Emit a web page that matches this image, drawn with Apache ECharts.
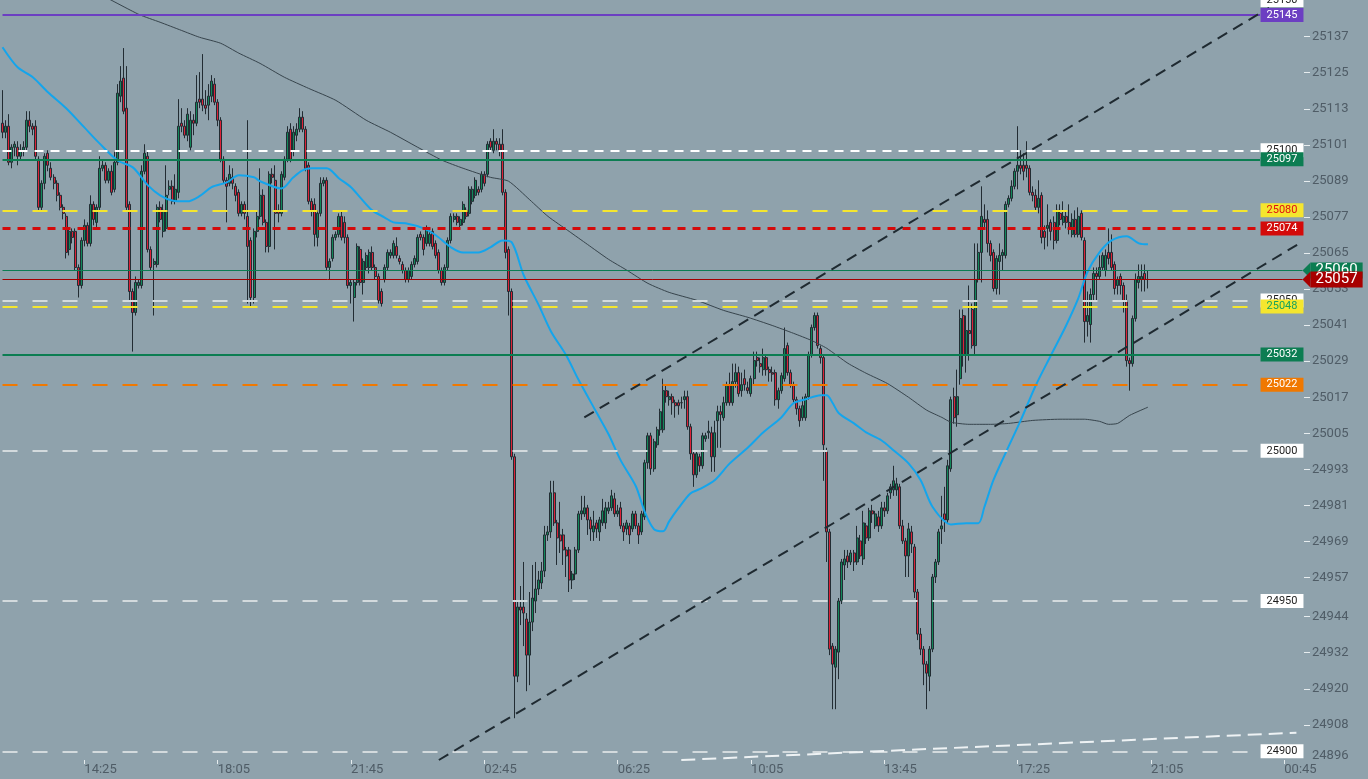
<!DOCTYPE html>
<html>
<head>
<meta charset="utf-8">
<script src="https://cdn.jsdelivr.net/npm/echarts@6/dist/echarts.min.js"></script>
<style>
html, body { margin: 0; padding: 0; background: #8fa2ac; }
#chart { width: 1368px; height: 779px; }
</style>
</head>
<body>
<div id="chart"></div>
<script>
// 5 minute bars, [open, close, low, high]
var barsA = [
    [25109,25106,25104,25120],[25106,25108,25104,25110],[25108,25096,25095,25112],[25096,25101,25094,25102],[25101,25102,25098,25103],
    [25101,25098,25095,25103],[25098,25100,25097,25102],[25100,25101,25098,25103],[25101,25110,25100,25113],[25110,25108,25106,25113],
    [25108,25107,25105,25109],[25108,25098,25097,25110],[25097,25081,25080,25098],[25081,25089,25080,25090],[25089,25098,25087,25099],
    [25099,25095,25093,25100],[25094,25091,25090,25096],[25091,25089,25087,25092],[25089,25085,25083,25090],[25085,25081,25080,25086],
    [25081,25079,25077,25082],[25078,25066,25064,25079],[25067,25073,25065,25074],[25073,25071,25069,25074],[25073,25061,25060,25074],
    [25061,25055,25051,25062],[25055,25070,25054,25071],[25070,25075,25068,25077],[25075,25069,25068,25076],[25069,25082,25068,25085],
    [25082,25077,25075,25083],[25076,25081,25074,25082],[25081,25094,25080,25098],[25094,25095,25093,25097],[25095,25090,25089,25096],
    [25090,25093,25089,25094],[25093,25086,25085,25095],[25087,25096,25086,25100],[25096,25119,25095,25122],[25118,25123,25116,25128],
    [25124,25113,25112,25134],[25114,25081,25080,25128],[25082,25053,25050,25083],[25053,25046,25033,25054],[25046,25056,25045,25058],
    [25055,25056,25054,25057],[25055,25093,25054,25095],[25093,25099,25092,25102],[25098,25067,25066,25100],[25067,25061,25060,25068],
    [25062,25063,25045,25064],[25062,25081,25061,25082],[25081,25077,25076,25083],[25073,25080,25071,25082],[25074,25085,25073,25095],
    [25087,25088,25085,25090],[25088,25083,25082,25090],[25083,25087,25082,25092],[25086,25108,25084,25117],[25109,25108,25106,25114],
    [25108,25105,25104,25110],[25105,25112,25103,25114],[25101,25110,25100,25113],[25110,25109,25105,25112],[25109,25116,25108,25125],
    [25117,25116,25114,25126],[25117,25115,25113,25132],[25115,25114,25112,25120],[25115,25118,25110,25122],[25118,25123,25116,25125],
    [25122,25116,25115,25124],[25116,25110,25108,25117],[25110,25097,25096,25111],[25097,25090,25089,25098],[25090,25088,25076,25091],
    [25089,25092,25088,25095],[25091,25089,25087,25094],[25088,25085,25083,25089],[25086,25079,25078,25087],[25079,25082,25078,25083],
    [25082,25079,25077,25083],[25078,25068,25049,25110]
];
var barsB = [
    [25070,25051,25048,25071],[25051,25073,25049,25074],[25073,25078,25071,25080],[25078,25085,25077,25094],[25085,25076,25075,25087],
    [25076,25068,25066,25077],[25068,25092,25066,25093],[25092,25091,25089,25094],[25090,25079,25067,25095],[25080,25079,25076,25082],
    [25079,25092,25078,25093],[25091,25097,25090,25098],[25097,25106,25096,25108],[25107,25097,25096,25109],[25100,25106,25098,25108],
    [25105,25107,25103,25109],[25107,25111,25106,25114],[25111,25107,25106,25113],[25107,25094,25093,25108],[25095,25083,25082,25096],
    [25083,25080,25078,25084],[25082,25072,25068,25084],[25071,25079,25068,25080],[25079,25089,25078,25091],[25089,25090,25088,25091],
    [25090,25061,25060,25091],[25061,25063,25057,25064],[25064,25071,25063,25072],[25071,25072,25070,25073],[25072,25078,25071,25079],
    [25078,25071,25070,25080],[25076,25071,25069,25078],[25071,25055,25054,25072],[25055,25056,25049,25057],[25051,25056,25043,25057],
    [25056,25068,25055,25069],[25067,25056,25055,25068],[25056,25063,25052,25064],[25061,25065,25060,25066],[25061,25066,25059,25067],
    [25066,25061,25060,25068],[25061,25058,25057,25062],[25058,25050,25049,25059],[25053,25049,25048,25054],[25057,25061,25056,25062],
    [25061,25066,25060,25067],[25065,25066,25064,25067],[25065,25069,25064,25070],[25068,25065,25064,25071],[25064,25063,25062,25065],
    [25062,25060,25059,25063],[25060,25057,25056,25061],[25057,25060,25056,25061],[25058,25062,25057,25063],[25062,25064,25061,25065],
    [25063,25071,25062,25072],[25072,25071,25070,25073],[25071,25067,25065,25072],[25069,25074,25068,25075],[25069,25072,25068,25074],
    [25073,25068,25067,25074],[25069,25065,25064,25070],[25066,25060,25059,25067],[25060,25056,25055,25061],[25056,25061,25055,25062],
    [25061,25070,25060,25071],[25070,25078,25069,25079],[25077,25078,25076,25079],[25078,25076,25075,25079],[25075,25077,25074,25078],
    [25076,25082,25075,25083],[25080,25078,25077,25081],[25079,25087,25078,25088],[25083,25087,25082,25088],[25085,25090,25084,25091],
    [25087,25086,25085,25088],[25087,25092,25086,25093],[25092,25089,25088,25093],[25092,25102,25091,25103],[25103,25101,25100,25104],
    [25100,25103,25099,25107],[25103,25102,25100,25104]
];
var barsC = [
    [25102,25100,25098,25104],[25102,25086,25085,25107],[25086,25066,25064,25087],[25067,25053,25045,25068],[25053,24998,24997,25054],
    [24998,24925,24911,24999],[24925,24948,24923,24950],[24948,24947,24942,24955],[24948,24946,24935,24963],[24944,24932,24920,24946],
    [24932,24943,24922,24953],[24943,24951,24940,24962],[24950,24954,24946,24963],[24954,24957,24952,24960],[24956,24960,24954,24963],
    [24960,24972,24958,24975],[24972,24973,24970,24975],[24973,24986,24971,24990],[24986,24976,24975,24990],[24976,24971,24962,24977],
    [24972,24970,24966,24983],[24972,24967,24962,24974],[24967,24965,24958,24968],[24967,24957,24953,24968],[24957,24959,24954,24960],
    [24959,24967,24957,24968],[24967,24979,24966,24980],[24979,24980,24977,24985],[24979,24981,24978,24985],[24981,24977,24972,24982],
    [24977,24974,24970,24978],[24973,24975,24970,24980],[24976,24974,24971,24977],[24973,24977,24970,24978],[24976,24980,24975,24984],
    [24976,24981,24974,24983],[24980,24981,24979,24983],[24981,24985,24980,24987],[24984,24979,24978,24986],[24979,24980,24978,24982],
    [24981,24975,24974,24983],[24975,24973,24970,24976],[24974,24976,24972,24977],[24975,24972,24969,24976],[24974,24979,24973,24980],
    [24979,24975,24974,24980],[24975,24972,24969,24976],[24973,24979,24972,24980],[24978,24996,24977,24997],[24996,25005,24994,25006],
    [25005,24994,24992,25006],[24994,25003,24993,25004],[25002,25007,25001,25008],[25007,25013,25005,25014],[25007,25020,25006,25024],
    [25020,25018,25016,25022],[25017,25018,25015,25020],[25018,25016,25012,25019],[25016,25015,25011,25017],[25016,25015,25012,25017],
    [25016,25016,25014,25018],[25017,25018,25014,25020]
];
var barsD = [
    [25018,25008,25007,25020],[25008,24999,24997,25009],[24999,24992,24988,25000],[24992,24999,24991,25000],[24998,24995,24993,24999],
    [24995,25005,24994,25006],[25004,25005,25003,25006],[25006,25006.5,25004,25010],[25006,24998,24993,25008],[24998,25006,24993,25010],
    [25010,25013,25001,25015],[25013,25012,25001,25015],[25011,25016,25010,25018],[25016,25022,25015,25023],[25022,25016,25015,25026],
    [25016,25023,25015,25029],[25023,25026,25021,25029],[25026,25019,25018,25028],[25020,25022,25018,25026],[25024,25022,25020,25027],
    [25021,25020,25019,25023],[25019,25024,25018,25025],[25024,25030,25022,25033],[25031,25030,25028,25033],[25029,25028,25026,25031],
    [25027,25031,25025,25034],[25031,25027,25025,25032],[25027,25026,25023,25028],[25026,25025.5,25023,25028],[25026,25017,25015,25027],
    [25017,25020,25014,25021],[25020,25025,25019,25026],[25024,25034,25023,25041],[25035,25026,25025,25036],[25026,25022,25021,25027],
    [25022,25017,25016,25023],[25017,25014,25012,25018],[25014,25010,25008,25015],[25011,25015,25010,25018],[25011,25018,25010,25019],
    [25018,25032,25017,25033],[25032,25041,25031,25042],[25041,25045,25040,25046],[25045,25035,25034,25046],[25034,25031,25029,25035],
    [25031,25002,24990,25032],[25000,24973,24963,25001],[24973,24934,24932,24974],[24935,24929,24914,24936],[24928,24934,24914,24935],
    [24933,24950,24924,24951],[24950,24963,24949,24964],[24962,24964,24957,24967],[24965,24963,24961,24967],[24963,24966,24962,24967],
    [24966,24963,24960,24967],[24963,24971,24962,24975],[24970,24965,24964,24972],[24964,24976,24962,24980],[24975,24971,24969,24976],
    [24971,24980,24970,24981],[24980,24979,24976,24982],[24975,24979,24974,24980],[24978,24975,24973,24980],[24975,24981,24974,24983],
    [24981,24980,24978,24983],[24980,24985,24979,24986],[24986,24988,24984,24989],[24987,24990,24985,24995],[24987,24989,24985,24991]
];
var barsE = [
    [24988,24975,24974,24989],[24975,24970,24969,24977],[24970,24965,24958,24971],[24965,24974,24958,24976],[24973,24969,24966,24975],
    [24968,24953,24951,24969],[24953,24939,24937,24954],[24939,24934,24932,24941],[24934,24929,24922,24935],[24929,24926,24914,24930],
    [24925,24934,24920,24935],[24934,24958,24933,24959],[24958,24963,24956,24964],[24963,24973,24962,24974],[24974,24975,24969,24985],
    [24979,24977,24973,24988],[24977,24995,24976,24997],[24994,25017,24993,25018],
    [25018,25011,25009,25021],[25012,25018,25008,25027],[25024,25044,25022,25047],[25045,25032,25028,25047],[25032,25040,25026,25045],
    [25040,25039,25030,25055],[25047,25035,25034,25049],[25035,25057,25032,25069],[25057,25066,25056,25069],[25066,25078,25056,25088],
    [25077,25076,25074,25082],[25077,25069,25066,25080],[25069,25065,25063,25070],[25066,25054,25053,25067],[25054,25064,25052,25065],
    [25063,25065,25052,25069],[25065,25066,25060,25067],[25065,25082,25064,25083],[25082,25084,25081,25085],[25084,25088,25083,25090],
    [25088,25093,25087,25094],[25093,25095,25087,25108],[25095,25094,25092,25100],[25095,25093,25090,25099],[25095,25094,25091,25103],
    [25094,25086,25085,25095],[25086,25085,25083,25088],[25085,25081,25080,25087],[25081,25084,25079,25090],[25085,25071,25069,25086],
    [25073,25071,25067,25075],[25074,25075,25068,25082],[25076,25073,25070,25077],[25076,25070,25067,25078],[25070,25080,25069,25082],
    [25079,25077,25075,25082],[25076,25078,25075,25083],[25078,25076,25074,25080],[25076,25074,25072,25082],[25072,25077,25071,25079],
    [25077,25072,25071,25080],[25072,25078,25071,25081],[25079,25071,25070,25080],[25070,25043,25036,25071],[25043,25045,25038,25053],
    [25042,25052,25036,25054],[25052,25059,25050,25061],[25059,25058,25050,25061],[25058,25061,25057,25065],[25061,25065,25060,25066],
    [25060,25065,25058,25067],[25066,25064,25062,25074],[25066,25061,25060,25072],[25062,25054,25052,25063],[25055,25057,25052,25058],
    [25058,25055,25052,25059],[25055,25050,25046,25056],[25050,25030,25028,25052],[25030,25029,25020,25031],[25029,25044,25028,25045],
    [25044,25057,25043,25059],[25056,25058,25054,25062],[25057,25058,25053,25062],[25059,25057,25053,25062],[25057,25057,25054,25060]
];
var bars = barsA.concat(barsB, barsC, barsD, barsE);

// moving averages, [bar index, price]
var blueAvg = [[0,25134.3],[5,25127.6],[10,25124.3],[15,25119.3],[21,25114.0],[27,25107.6],[32,25102.3],[38,25096.6],[43,25094.3],[48,25088.3],[52,25085.0],[56,25083.3],[61,25083.0],[65,25084.7],[69,25087.7],[74,25089.3],[78,25091.7],[83,25091.0],[85,25089.7],[92,25087.3],[96,25091.0],[99,25093.3],[102,25094.0],[107,25094.0],[111,25090.7],[115,25087.7],[118,25084.3],[122,25080.0],[126,25077.7],[129,25076.0],[133,25075.7],[139,25074.0],[143,25071.7],[148,25067.7],[152,25066.0],[157,25066.0],[161,25067.7],[165,25070.0],[168,25069.4],[172,25058.4],[177,25048.4],[181,25039.7],[186,25031.8],[190,25023.8],[196,25012.8],[200,25005.5],[204,24996.8],[209,24988.2],[212,24979.5],[215,24973.9],[218,24973.2],[220,24976.5],[223,24980.8],[227,24985.8],[230,24987.2],[235,24990.2],[240,24995.8],[246,25001.1],[251,25006.1],[257,25011.1],[261,25015.8],[265,25017.1],[270,25018.5],[272,25018.5],[274,25015.8],[276,25012.5],[281,25009.1],[285,25006.1],[290,25003.5],[294,25000.2],[299,24995.8],[303,24990.2],[307,24981.2],[313,24975.5],[318,24975.9],[322,24975.9],[324,24981.2],[327,24990.2],[331,24999.2],[336,25010.1],[341,25021.8],[346,25031.8],[351,25041.7],[355,25050.7],[358,25059.4],[362,25066.0],[366,25070.0],[371,25071.4],[375,25069.0],[378,25068.7]];
var grayAvg = [[33,25151.5],[45,25145.2],[52,25142.6],[59,25139.9],[65,25137.6],[72,25135.6],[78,25132.3],[85,25128.9],[93,25124.3],[101,25120.6],[110,25116.6],[120,25110.0],[128,25106.0],[137,25101.0],[145,25096.7],[152,25094.0],[161,25091.0],[167,25089.7],[174,25083.5],[180,25078.0],[187,25073.0],[193,25068.7],[200,25063.7],[206,25060.1],[213,25055.7],[220,25052.7],[229,25050.1],[238,25046.7],[246,25044.4],[254,25041.7],[261,25039.1],[267,25036.7],[272,25034.1],[279,25029.1],[285,25025.8],[292,25022.4],[299,25017.8],[305,25013.5],[310,25011.1],[313,25009.5],[319,25008.8],[326,25008.8],[332,25009.1],[340,25010.1],[349,25010.5],[357,25010.5],[362,25009.8],[365,25008.8],[368,25009.1],[372,25011.8],[378,25014.5]];

// drawn trend lines, [bar index, price]
var channelUpper = [[192,25011.1],[418,25147.4]];
var channelLower = [[144,24897.1],[428,25069.0]];
var whiteTrend = [[224,24897.1],[427,24906.2]];

// horizontal price levels, later ones are drawn over earlier ones
var levelPrices = [25150, 25145, 25100, 25097, 25080, 25074, 25050, 25048, 25032, 25022, 25000, 24950, 24900, 25060, 25057];

// axis labels
var timeLabels = ['14:25','18:05','21:45','02:45','06:25','10:05','13:45','17:25','21:05','00:45'];
var yTickLabels = [25137,25125,25113,25101,25089,25077,25065,25053,25041,25029,25017,25005,24993,24981,24969,24957,24944,24932,24920,24908,24896];

var slotCount = 430, firstTick = 27, tickStep = 44;
var yMin = 24897.1, yMax = 25150, yShift = 0.8;

var cats = [];
for (var i = 0; i < slotCount; i++) cats.push(String(i));

function isTick(index) {
    return index >= firstTick && (index - firstTick) % tickStep == 0;
}

var yLabelPos = yTickLabels.map(v => Math.max(v + yShift, yMin + 1.3));
var yTickPos = yTickLabels.filter(v => v + yShift > yMin).map(v => v + yShift);

var GREEN = '#0c7d52', WHITE = '#ffffff', LGRAY = '#d3dadd', YELLOW = '#f5e62e';
var levelStyle = {
    25150: { box: WHITE, text: '#1d1d1d' },
    25145: { line: { color: '#6c3fc2', width: 2, type: 'solid' }, box: '#6c3fc2', text: '#fff' },
    25100: { line: { color: WHITE, width: 2, type: [9, 7] }, box: WHITE, text: '#1d1d1d' },
    25097: { line: { color: GREEN, width: 2, type: 'solid' }, box: GREEN, text: '#fff' },
    25080: { line: { color: YELLOW, width: 2, type: [15, 15] }, box: YELLOW, text: '#e01010' },
    25074: { line: { color: '#d40a0a', width: 3, type: [8, 7] }, box: '#d40a0a', text: '#fff' },
    25050: { line: { color: LGRAY, width: 2, type: [15, 15] }, box: WHITE, text: '#1d1d1d' },
    25048: { line: { color: YELLOW, width: 2, type: [15, 15] }, box: YELLOW, text: '#17a35c' },
    25032: { line: { color: GREEN, width: 2, type: 'solid' }, box: GREEN, text: '#fff' },
    25022: { line: { color: '#f07800', width: 2, type: [15, 15] }, box: '#f07800', text: '#fff' },
    25000: { line: { color: LGRAY, width: 2, type: [15, 15] }, box: WHITE, text: '#1d1d1d' },
    24950: { line: { color: LGRAY, width: 2, type: [15, 15] }, box: WHITE, text: '#1d1d1d' },
    24900: { line: { color: LGRAY, width: 2, type: [15, 15] }, box: WHITE, text: '#1d1d1d' },
    25060: { line: { color: GREEN, width: 1, type: 'solid' }, box: GREEN, text: '#fff', arrow: true },
    25057: { line: { color: '#a30000', width: 1, type: 'solid' }, box: '#a80000', text: '#fff', arrow: true }
};

var levelLines = [], levelBoxes = [];
levelPrices.forEach(function (p) {
    var st = levelStyle[p];
    var end = st.arrow ? 429 : 415;
    if (st.line) {
        levelLines.push([{ coord: [0, p], lineStyle: st.line }, { coord: [end, p] }]);
    }
    // the box is the label's own background, the arrow tip is the symbol
    levelBoxes.push({
        coord: [end, p],
        value: p,
        symbol: st.arrow ? 'path://M0,8L8,0L8,16Z' : 'rect',
        symbolSize: st.arrow ? [8, 16] : [1, 1],
        symbolOffset: st.arrow ? [4, 0] : [0, 0],
        symbolKeepAspect: false,
        itemStyle: { color: st.arrow ? st.box : 'rgba(0,0,0,0)' },
        label: {
            show: true, position: 'right', distance: 0,
            color: st.text, backgroundColor: st.box,
            fontFamily: 'Roboto',
            fontSize: st.arrow ? 15 : 11,
            lineHeight: st.arrow ? 14 : 12,
            padding: st.arrow ? [1, 5, 1, 5] : [1, 6, 1, 6],
            formatter: String(p)
        }
    });
});

function trendSeries(data, color, dash) {
    return {
        type: 'line', data: data, z: 4, silent: true,
        showSymbol: false, symbol: 'none',
        lineStyle: { color: color, width: 2, type: dash }
    };
}

var chart = echarts.init(document.getElementById('chart'));
chart.setOption({
    backgroundColor: '#8fa2ac',
    animation: false,
    textStyle: { fontFamily: 'Roboto' },
    grid: { left: 1, top: 0, width: 1303, height: 760 },
    xAxis: {
        type: 'category',
        data: cats,
        boundaryGap: true,
        axisLine: { show: false },
        axisTick: {
            show: true, alignWithLabel: true, length: 4,
            interval: isTick,
            lineStyle: { color: '#e6ecee' }
        },
        axisLabel: {
            interval: isTick,
            align: 'left', margin: 3,
            color: '#4f5c66', fontSize: 13,
            formatter: function (val, idx) {
                return timeLabels[(idx - firstTick) / tickStep] || '';
            }
        },
        splitLine: { show: false }
    },
    yAxis: {
        type: 'value',
        position: 'right',
        min: yMin, max: yMax,
        axisLine: { show: false },
        splitLine: { show: false },
        axisTick: {
            show: true, length: 6, customValues: yTickPos,
            lineStyle: { color: '#e6ecee' }
        },
        axisLabel: {
            customValues: yLabelPos,
            margin: 8, color: '#4f5c66', fontSize: 13,
            formatter: function (val) {
                var best = yTickLabels[0];
                yTickLabels.forEach(function (v) {
                    if (Math.abs(v - val) < Math.abs(best - val)) best = v;
                });
                return String(best);
            }
        }
    },
    series: [
        {
            type: 'candlestick',
            data: bars,
            barWidth: 2.5,
            z: 2,
            itemStyle: {
                color: '#12875a', color0: '#dc2238',
                borderColor: '#222c33', borderColor0: '#222c33', borderColorDoji: '#222c33',
                borderWidth: 1
            }
        },
        {
            type: 'line', data: grayAvg, z: 3, silent: true,
            showSymbol: false, symbol: 'none', smooth: 0.2,
            lineStyle: { color: '#37444c', width: 1 }
        },
        {
            type: 'line', data: blueAvg, z: 3, silent: true,
            showSymbol: false, symbol: 'none', smooth: 0.3,
            lineStyle: { color: '#14a5ec', width: 2 }
        },
        {
            type: 'line', data: [], silent: true,
            markLine: {
                silent: true, z: 4, symbol: ['none', 'none'],
                label: { show: false },
                data: levelLines
            }
        },
        trendSeries(channelUpper, '#1f2a31', [11, 7]),
        trendSeries(channelLower, '#1f2a31', [11, 7]),
        trendSeries(whiteTrend, '#eef2f4', [14, 7]),
        {
            type: 'line', data: [], silent: true,
            markPoint: { silent: true, z: 6, data: levelBoxes }
        }
    ]
});
</script>
</body>
</html>
